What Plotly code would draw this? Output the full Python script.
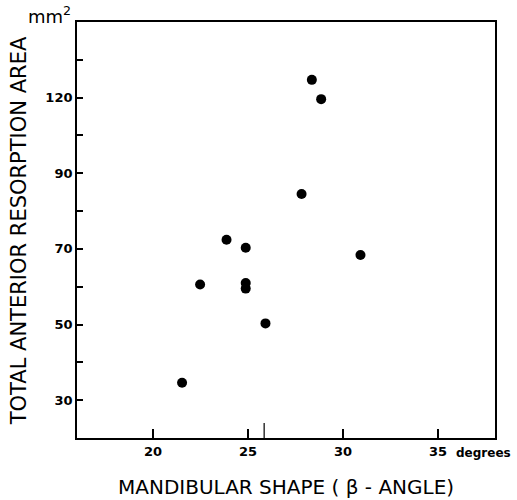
import plotly.graph_objects as go

# Mandibular shape (beta-angle, degrees) vs total anterior resorption area (mm^2)
beta_angle = [28.36, 28.85, 27.82, 23.87, 24.88, 30.92, 22.48, 24.88, 24.88, 25.92, 21.53]
resorption_area = [114.7, 109.6, 84.5, 72.4, 70.3, 68.4, 60.6, 61.0, 59.5, 50.3, 34.6]

x_ticks = [20, 25, 30, 35]
x_tick_labels = ["20", "25", "30", "35"]
y_ticks = [30, 50, 70, 90, 110]
y_tick_labels = ["30", "50", "70", "90", "120"]
y_minor_ticks = [40, 60, 80, 100, 120]
extra_x_tick = 25.85

fig = go.Figure()
fig.add_trace(go.Scatter(
    x=beta_angle, y=resorption_area, mode="markers",
    marker=dict(size=10, color="black"),
    showlegend=False,
))

tick_font = dict(family="DejaVu Sans", size=13, color="black", weight="bold")
unit_font = dict(family="DejaVu Sans", size=12, color="black", weight="bold")
title_font = dict(family="DejaVu Sans", size=20, color="black")

fig.update_xaxes(
    range=[16, 38], tickvals=x_ticks, ticktext=x_tick_labels,
    ticks="inside", ticklen=9, tickwidth=1.5, tickcolor="black",
    showline=True, linecolor="black", linewidth=1.8, mirror=True,
    showgrid=False, zeroline=False, tickfont=tick_font,
)
fig.update_yaxes(
    range=[20, 130], tickvals=y_ticks, ticktext=y_tick_labels,
    ticks="inside", ticklen=6, tickwidth=1.5, tickcolor="black",
    minor=dict(tickvals=y_minor_ticks, ticks="inside", ticklen=6,
               tickwidth=1.5, tickcolor="black"),
    showline=True, linecolor="black", linewidth=1.8, mirror=True,
    showgrid=False, zeroline=False, tickfont=tick_font,
)

# taller stray tick on the x axis just past 25
fig.add_shape(
    type="line", xref="x", yref="paper", x0=extra_x_tick, x1=extra_x_tick,
    y0=0, y1=0.036, line=dict(color="black", width=1.2),
)

fig.add_annotation(
    text="degrees", xref="paper", yref="paper", x=0.902, y=0,
    xanchor="left", yanchor="top", yshift=-6, showarrow=False, font=unit_font,
)
fig.add_annotation(
    text="MANDIBULAR SHAPE ( \u03b2 - ANGLE)", xref="paper", yref="paper",
    x=0.499, y=0, xanchor="center", yanchor="middle", yshift=-49,
    showarrow=False, font=title_font,
)
fig.add_annotation(
    text="TOTAL ANTERIOR RESORPTION AREA", xref="paper", yref="paper",
    x=0, y=0.497, xanchor="center", yanchor="middle", xshift=-58, textangle=-90,
    showarrow=False, font=dict(family="DejaVu Sans", size=21, color="black"),
)
fig.add_annotation(
    text="mm<sup>2</sup>", xref="paper", yref="paper", x=0, y=1,
    xanchor="right", yanchor="middle", xshift=-4, yshift=7,
    showarrow=False, font=dict(family="DejaVu Sans", size=18, color="black"),
)

fig.update_layout(
    width=517, height=500,
    margin=dict(l=77, r=22, t=22, b=62),
    plot_bgcolor="white", paper_bgcolor="white",
)

fig.write_html("out.html")
